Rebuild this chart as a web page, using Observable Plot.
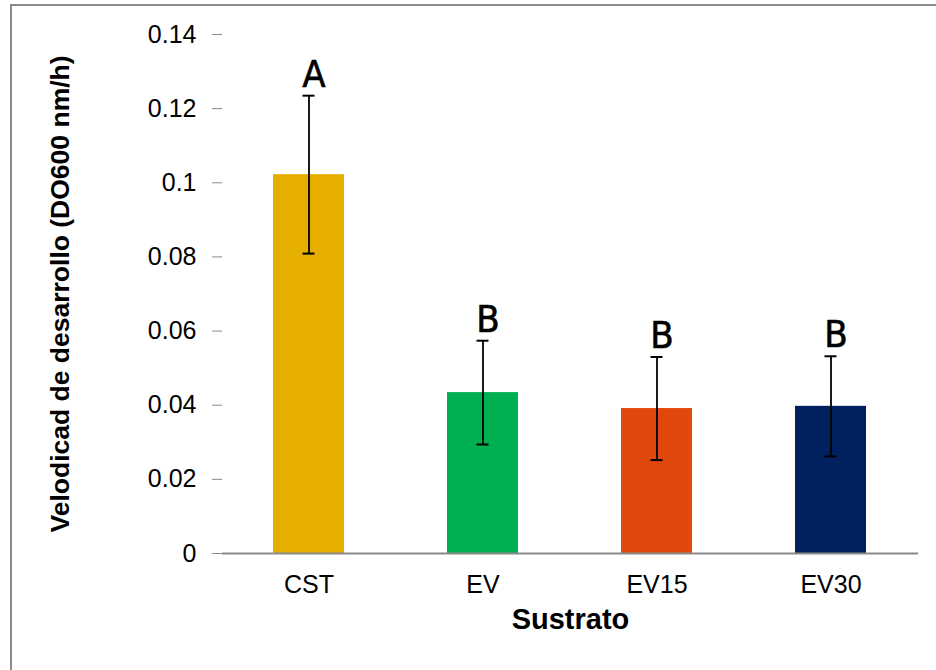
<!DOCTYPE html>
<html>
<head>
<meta charset="utf-8">
<script src="https://cdn.jsdelivr.net/npm/d3@7"></script>
<script src="https://cdn.jsdelivr.net/npm/@observablehq/plot@0.6"></script>
<style>
  html, body { margin: 0; padding: 0; background: #fff; overflow: hidden; }
  #wrap { position: relative; width: 936px; height: 670px; overflow: hidden; }
  #frame { position: absolute; left: 10px; top: 4px; width: 1000px; height: 1000px;
           border-top: 2px solid #8a8a8a; border-left: 2px solid #8a8a8a; }
  #chart { position: absolute; left: 0; top: 0; }
</style>
</head>
<body>
<div id="wrap"><div id="frame"></div><div id="chart"></div></div>
<script>
const categories = ["CST", "EV", "EV15", "EV30"];
const means = [0.1022, 0.0434, 0.0391, 0.0397];
const errors = [0.0213, 0.0140, 0.0139, 0.0135];
const letters = ["A", "B", "B", "B"];
const colors = ["#E6AF00", "#00B050", "#E0480C", "#002060"];
const yTicks = [0, 0.02, 0.04, 0.06, 0.08, 0.1, 0.12, 0.14];

const data = categories.map((c, i) => ({
  cat: c, mean: means[i], err: errors[i], letter: letters[i],
  lo: means[i] - errors[i], hi: means[i] + errors[i]
}));

const chart = Plot.plot({
  width: 936,
  height: 670,
  marginLeft: 222,
  marginRight: 18,
  marginTop: 34,
  marginBottom: 117,
  style: { fontFamily: "'Liberation Sans', Arial, sans-serif", background: "transparent" },
  x: { domain: categories, paddingInner: 0.59, paddingOuter: 0.295, label: null },
  y: { domain: [0, 0.14], label: null },
  color: { domain: categories, range: colors },
  marks: [
    Plot.barY(data, { x: "cat", y: "mean", fill: "cat" }),
    Plot.ruleX(data, { x: "cat", y1: "lo", y2: "hi", stroke: "#000", strokeWidth: 1.8 }),
    Plot.tickY(data, { x: "cat", y: "lo", stroke: "#000", strokeWidth: 2, insetLeft: 29.5, insetRight: 29.5 }),
    Plot.tickY(data, { x: "cat", y: "hi", stroke: "#000", strokeWidth: 2, insetLeft: 29.5, insetRight: 29.5 }),
    Plot.text(data, { x: "cat", y: "hi", text: "letter", dy: -9, dx: 5, lineAnchor: "bottom",
      fontSize: 38, fill: "#000", stroke: "#000", strokeWidth: 0.6,
      fontFamily: "'Liberation Sans Narrow', 'DejaVu Sans Condensed', 'Liberation Sans', sans-serif" }),
    Plot.axisY({ ticks: yTicks, tickFormat: d => String(+d.toFixed(2)), tickSize: 10, tickPadding: 16,
      fontSize: 25, stroke: "#8a8a8a", color: "#000", label: null }),
    Plot.ruleX([0], { frameAnchor: "left", stroke: "#8a8a8a", strokeWidth: 1.5 }),
    Plot.axisX({ tickSize: 0, tickPadding: 22, fontSize: 25, label: null }),
    Plot.ruleY([0], { stroke: "#8a8a8a", strokeWidth: 2 }),
    Plot.text(["Sustrato"], { frameAnchor: "bottom", textAnchor: "middle", dy: 75, fontSize: 29, fontWeight: "bold", fill: "#000" }),
    Plot.text(["Velodicad de desarrollo (DO600 nm/h)"], { frameAnchor: "left", textAnchor: "middle", dx: -162, rotate: -90,
      fontSize: 26.5, fontWeight: "bold", fill: "#000" })
  ]
});
document.getElementById("chart").appendChild(chart);
</script>
</body>
</html>
